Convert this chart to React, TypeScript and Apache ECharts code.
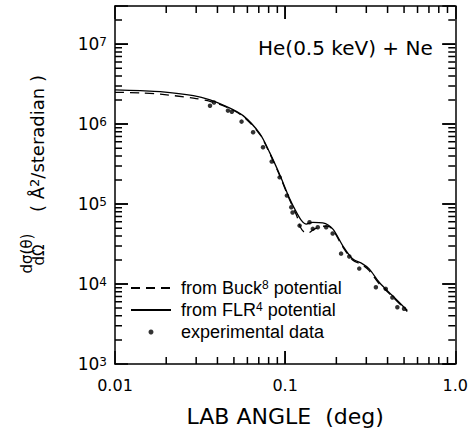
import React, { useEffect, useRef } from 'react';
import * as echarts from 'echarts';

// ---- data ----
const flrAngle = [0.01, 0.01409, 0.01845, 0.0289, 0.0362, 0.0453, 0.0566, 0.07096, 0.08116, 0.09286, 0.1062, 0.1168, 0.1249, 0.1331, 0.1454, 0.1664, 0.1903, 0.2178, 0.249, 0.285, 0.312, 0.357, 0.4266, 0.5225];
const flrValue = [2.68e6, 2.62e6, 2.55e6, 2.27e6, 2.01e6, 1.655e6, 1.277e6, 7.61e5, 4.4e5, 2.34e5, 1.172e5, 7.83e4, 6.22e4, 5.62e4, 5.92e4, 5.82e4, 4.9e4, 3.03e4, 2.07e4, 1.79e4, 1.55e4, 1.053e4, 7.18e3, 4.66e3];

const buckAngle = [0.01, 0.01409, 0.01845, 0.0289, 0.0362, 0.0453, 0.0566, 0.07096, 0.08116, 0.09286, 0.1062, 0.1168, 0.1232, 0.13, 0.1372, 0.1468, 0.1628, 0.1772, 0.1903, 0.2178, 0.249, 0.285, 0.312, 0.357, 0.4266, 0.5225];
const buckValue = [2.5e6, 2.455e6, 2.37e6, 2.11e6, 1.93e6, 1.63e6, 1.25e6, 7.45e5, 4.3e5, 2.27e5, 1.13e5, 7.2e4, 5.09e4, 4.44e4, 4.37e4, 4.8e4, 5.23e4, 5.31e4, 4.8e4, 2.94e4, 2.0e4, 1.73e4, 1.47e4, 1.01e4, 6.98e3, 4.53e3];

const expAngle = [0.03617, 0.03819, 0.0461, 0.0486, 0.05545, 0.06482, 0.07413, 0.08337, 0.09286, 0.1024, 0.1087, 0.1106, 0.1216, 0.1391, 0.1454, 0.1555, 0.1742, 0.1903, 0.2132, 0.2383, 0.2727, 0.3415, 0.3906, 0.4269, 0.4566, 0.4998];
const expValue = [1.7e6, 1.86e6, 1.475e6, 1.43e6, 1.075e6, 7.9e5, 5.13e5, 3.4e5, 2.16e5, 1.277e5, 9.12e4, 7.83e4, 5.38e4, 5.92e4, 4.9e4, 5.13e4, 5.13e4, 4.28e4, 2.4e4, 2.21e4, 1.56e4, 9.12e3, 8.71e3, 6.78e3, 5.13e3, 4.9e3];

const xTickValues = [0.01, 0.1, 1];
const xTickLabels = ['0.01', '0.1', '1.0'];
const xInnerMajor = [0.1];
const yTickExponents = [3, 4, 5, 6, 7];
const yInnerMajor = [1e4, 1e5, 1e6, 1e7];
const minorMantissas = [2, 3, 4, 5, 6, 7, 8, 9];
const xMinorDecades = [0.01, 0.1];
const yMinorDecades = [1e3, 1e4, 1e5, 1e6];
const yMinorExtra = [2e7];

const seriesNames = ['from Buck⁸ potential', 'from FLR⁴ potential', 'experimental data'];
const legendRich: Record<string, string> = {
  'from Buck⁸ potential': '{t|from Buck}{s|8}{t| potential}',
  'from FLR⁴ potential': '{t|from FLR}{s|4}{t| potential}',
  'experimental data': '{t|experimental data}',
};

const F = 'DejaVu Sans';
const L = 'Liberation Sans';
const X_MIN = 0.01;
const X_MAX = 1;
const Y_MIN = 1e3;
const Y_MAX = 3e7;

export default function App() {
  const ref = useRef<HTMLDivElement>(null);
  useEffect(() => {
    document.body.style.margin = '0';
    const chart = echarts.init(ref.current as HTMLDivElement, null, { renderer: 'svg' });

    const xMinor: number[] = [];
    xMinorDecades.forEach((d) => minorMantissas.forEach((m) => xMinor.push(+(m * d).toPrecision(6))));
    const yMinor: number[] = [];
    yMinorDecades.forEach((d) => minorMantissas.forEach((m) => yMinor.push(m * d)));
    yMinorExtra.forEach((v) => yMinor.push(v));

    const axisLine = () => ({ show: true, onZero: false, lineStyle: { color: '#000', width: 1.5 } });
    const majorTick = () => ({ show: true, inside: true, length: 13, lineStyle: { color: '#000', width: 1.5 } });

    const xFmt = (v: number) => {
      const i = xTickValues.findIndex((t) => Math.abs(Math.log10(t) - Math.log10(v)) < 1e-6);
      return i >= 0 ? xTickLabels[i] : ' ';
    };
    const yFmt = (v: number) => {
      const e = Math.log10(v);
      const r = Math.round(e);
      if (Math.abs(e - r) > 1e-6 || yTickExponents.indexOf(r) < 0) return ' ';
      return `{b|10}{s|${r}}`;
    };

    const dataSeries: any[] = [
      {
        name: seriesNames[0], type: 'line', xAxisIndex: 0, yAxisIndex: 0,
        data: buckAngle.map((a, i) => [a, buckValue[i]]),
        symbol: 'none', showSymbol: false, smooth: 0.3,
        lineStyle: { color: '#000', width: 1.3, type: [9, 6] }, itemStyle: { color: '#000' }, z: 2,
      },
      {
        name: seriesNames[1], type: 'line', xAxisIndex: 0, yAxisIndex: 0,
        data: flrAngle.map((a, i) => [a, flrValue[i]]),
        symbol: 'none', showSymbol: false, smooth: 0.3,
        lineStyle: { color: '#000', width: 1.3, type: 'solid' }, itemStyle: { color: '#000' }, z: 2,
      },
      {
        name: seriesNames[2], type: 'scatter', xAxisIndex: 0, yAxisIndex: 0,
        data: expAngle.map((a, i) => [a, expValue[i]]),
        symbol: 'circle', symbolSize: 4.5, itemStyle: { color: '#000' }, z: 3,
      },
    ];

    const option: any = {
      animation: false,
      grid: { left: 115, right: 15, top: 6, bottom: 72 },
      title: {
        text: 'He(0.5 keV) + Ne',
        left: 258,
        top: 38,
        padding: 0,
        textStyle: { fontFamily: F, fontSize: 20, fontWeight: 'normal', color: '#000' },
      },
      legend: {
        data: [
          { name: seriesNames[0], itemStyle: { opacity: 0 } },
          { name: seriesNames[1], itemStyle: { opacity: 0 } },
          { name: seriesNames[2] },
        ],
        orient: 'vertical',
        left: 130,
        top: 279,
        padding: 0,
        itemWidth: 40,
        itemHeight: 5,
        itemGap: 4,
        selectedMode: false,
        formatter: (name: string) => legendRich[name],
        textStyle: {
          color: '#000',
          rich: {
            t: { fontFamily: L, fontSize: 18, color: '#000', lineHeight: 18, verticalAlign: 'bottom' },
            s: { fontFamily: L, fontSize: 12, color: '#000', lineHeight: 12, verticalAlign: 'top' },
          },
          padding: [0, 0, 0, 5],
        },
      },
      xAxis: [
        {
          type: 'log', min: X_MIN, max: X_MAX, position: 'bottom',
          axisLine: axisLine(), axisTick: majorTick(), splitLine: { show: false },
          axisLabel: { color: '#000', fontFamily: F, fontSize: 16, margin: 13, formatter: xFmt },
          name: 'LAB ANGLE  (deg)', nameLocation: 'middle', nameGap: 41,
          nameTextStyle: { fontFamily: F, fontSize: 22, color: '#000' },
        },
        {
          type: 'log', min: X_MIN, max: X_MAX, position: 'top',
          axisLine: axisLine(), axisTick: majorTick(), splitLine: { show: false }, axisLabel: { show: false },
        },
      ],
      yAxis: [
        {
          type: 'log', min: Y_MIN, max: Y_MAX, position: 'left',
          axisLine: axisLine(), axisTick: majorTick(), splitLine: { show: false },
          axisLabel: {
            margin: 8, formatter: yFmt,
            rich: {
              b: { fontFamily: F, fontSize: 17, color: '#000', lineHeight: 17, padding: [10, 0, 0, 0], verticalAlign: 'bottom' },
              s: { fontFamily: F, fontSize: 12, color: '#000', lineHeight: 12, verticalAlign: 'top' },
            },
          },
        },
        {
          type: 'log', min: Y_MIN, max: Y_MAX, position: 'right',
          axisLine: axisLine(), axisTick: majorTick(), splitLine: { show: false }, axisLabel: { show: false },
        },
      ],
      graphic: [
        { type: 'text', x: 27, y: 253.5, rotation: Math.PI / 2, style: { text: 'dσ(θ)', fontFamily: F, fontSize: 15, fill: '#000', align: 'center', verticalAlign: 'middle' } },
        { type: 'text', x: 39, y: 255, rotation: Math.PI / 2, style: { text: 'dΩ', fontFamily: F, fontSize: 15, fill: '#000', align: 'center', verticalAlign: 'middle' } },
        {
          type: 'text', x: 37, y: 143.5, rotation: Math.PI / 2,
          style: {
            text: '{t|( Å}{s|2}{t|/steradian )}', align: 'center', verticalAlign: 'middle',
            rich: {
              t: { fontFamily: F, fontSize: 18, fill: '#000', lineHeight: 18, padding: [8, 0, 0, 0], verticalAlign: 'bottom' },
              s: { fontFamily: F, fontSize: 13, fill: '#000', lineHeight: 13, verticalAlign: 'top' },
            },
          },
        },
      ],
      series: dataSeries,
    };
    chart.setOption(option);

    // tick marks on all four sides, drawn as a broken line series whose ends are found
    // through the axes' own scales (tick length in pixels -> data value via convertFromPixel)
    try {
      const px = (v: number) => chart.convertToPixel({ xAxisIndex: 0 }, v) as number;
      const py = (v: number) => chart.convertToPixel({ yAxisIndex: 0 }, v) as number;
      const vx = (p: number) => chart.convertFromPixel({ xAxisIndex: 0 }, p) as number;
      const vy = (p: number) => chart.convertFromPixel({ yAxisIndex: 0 }, p) as number;
      const left = px(X_MIN);
      const right = px(X_MAX);
      const bottom = py(Y_MIN);
      const top = py(Y_MAX);
      const MIN = 7;
      const MAJ = 13;
      const GAP: any = ['-', '-'];
      const pts: any[] = [];
      const xt = (v: number, len: number) => {
        pts.push([v, Y_MIN], [v, vy(bottom - len)], GAP, [v, Y_MAX], [v, vy(top + len)], GAP);
      };
      const yt = (v: number, len: number) => {
        pts.push([X_MIN, v], [vx(left + len), v], GAP, [X_MAX, v], [vx(right - len), v], GAP);
      };
      xMinor.forEach((v) => xt(v, MIN));
      xInnerMajor.forEach((v) => xt(v, MAJ));
      yMinor.forEach((v) => yt(v, MIN));
      yInnerMajor.forEach((v) => yt(v, MAJ));
      chart.setOption({
        series: [
          ...dataSeries,
          {
            type: 'line', xAxisIndex: 0, yAxisIndex: 0, silent: true, clip: false, z: 5,
            data: pts, connectNulls: false, symbol: 'none', showSymbol: false, smooth: false,
            lineStyle: { color: '#000', width: 1.5, type: 'solid' },
          },
        ],
      });
    } catch (e) {
      // keep the chart even if the tick layer cannot be built
    }

    return () => chart.dispose();
  }, []);
  return <div ref={ref} style={{ position: 'absolute', left: 0, top: 0, width: 471, height: 436 }} />;
}
